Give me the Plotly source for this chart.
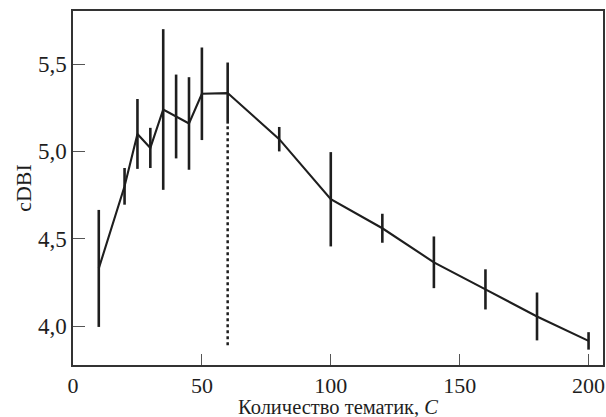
import plotly.graph_objects as go

topics = [10, 20, 25, 30, 35, 40, 45, 50, 60, 80, 100, 120, 140, 160, 180, 200]
cdbi = [4.33, 4.80, 5.10, 5.02, 5.24, 5.20, 5.16, 5.33, 5.334, 5.07, 4.726, 4.56, 4.365, 4.21, 4.055, 3.915]
err = [0.335, 0.105, 0.20, 0.115, 0.46, 0.24, 0.265, 0.265, 0.175, 0.07, 0.27, 0.083, 0.148, 0.115, 0.137, 0.05]

best_c = [60, 60]
best_line = [3.89, 5.16]

xticks = [0, 50, 100, 150, 200]
yticks = [4.0, 4.5, 5.0, 5.5]
x_title = "Количество тематик, <i>C</i>"
y_title = "cDBI"

ink = "#1e1e1e"
font_family = "Liberation Serif, Times New Roman, serif"

fig = go.Figure()
fig.add_trace(go.Scatter(
    x=best_c, y=best_line, mode="lines",
    line=dict(color=ink, width=2.5, dash="dot"),
    showlegend=False, hoverinfo="skip"))
fig.add_trace(go.Scatter(
    x=topics, y=cdbi, mode="lines",
    line=dict(color=ink, width=2.1),
    error_y=dict(type="data", array=err, visible=True, thickness=2.6, width=0, color=ink),
    showlegend=False))

fig.update_layout(
    width=606, height=417,
    margin=dict(l=73, r=3, t=11, b=52),
    paper_bgcolor="white", plot_bgcolor="white",
    separators=", ",
    font=dict(family=font_family, size=22, color=ink),
)
fig.add_annotation(
    text=x_title, xref="paper", yref="paper", x=0.5, y=0,
    xanchor="center", yanchor="bottom", yshift=-54, showarrow=False,
    font=dict(size=20.5, family=font_family, color=ink), borderpad=0,
)
fig.update_xaxes(
    range=[0, 205.6], tickvals=xticks, ticktext=[str(v) for v in xticks],
    ticks="inside", ticklen=11, tickwidth=1, tickcolor="#555",
    showline=True, linecolor="#333", linewidth=1.5, mirror=True,
    showgrid=False, zeroline=False, automargin=False,
    tickfont=dict(size=22, family=font_family),
)
fig.update_yaxes(
    range=[3.777, 5.804], tickvals=yticks, tickformat=".1f",
    ticks="inside", ticklen=12, tickwidth=1, tickcolor="#555",
    showline=True, linecolor="#333", linewidth=1.5, mirror=True,
    showgrid=False, zeroline=False, automargin=False,
    tickfont=dict(size=23, family=font_family),
    title=dict(text=y_title, font=dict(size=22, family=font_family), standoff=0),
)

fig.write_html("out.html")
